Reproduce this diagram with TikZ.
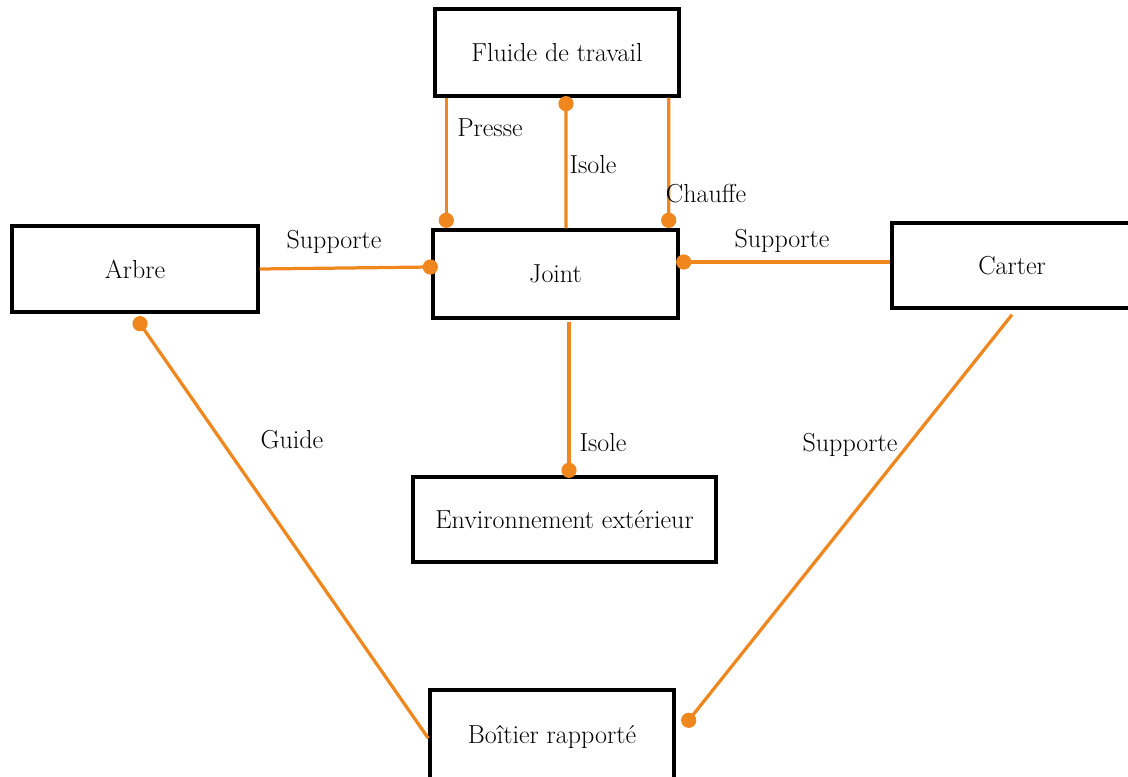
\documentclass[tikz,border=0pt]{standalone}
\usetikzlibrary{calc}
\definecolor{lk}{RGB}{240,135,30}
\tikzset{
  box/.style={draw=black, line width=2.4pt, fill=white, inner sep=0pt, font=\rmfamily\fontsize{18.5}{22}\selectfont},
  lnk/.style={draw=lk, line width=2.3pt},
  dot/.style={fill=lk},
  lbl/.style={font=\rmfamily\fontsize{18.5}{22}\selectfont, inner sep=0pt}
}
\begin{document}
\begin{tikzpicture}[x=0.025cm,y=-0.025cm]
\useasboundingbox (0,0) rectangle (1128,776);
\clip (0,0) rectangle (1128,776);
% boxes
\node[box, minimum width=244*0.025cm, minimum height=87*0.025cm] (F) at (557,52.5) {Fluide de travail};
\node[box, minimum width=245*0.025cm, minimum height=88*0.025cm] (J) at (555.5,274) {Joint};
\node[box, minimum width=246*0.025cm, minimum height=86*0.025cm] (A) at (135,269) {Arbre};
\node[box, minimum width=240*0.025cm, minimum height=85*0.025cm] (C) at (1012,265.5) {Carter};
\node[box, minimum width=303*0.025cm, minimum height=85*0.025cm] (E) at (564.5,519.5) {Environnement extérieur};
\node[box, minimum width=244*0.025cm, minimum height=94*0.025cm] (B) at (552,737) {Boîtier rapporté};
% connector end points
\coordinate (p1) at ($(F.south west)+(13,0)$);
\coordinate (p2) at ($(J.north west)+(15,-8)$);
\coordinate (i1) at ($(J.north)+(10.5,0)$);
\coordinate (i2) at ($(F.south)+(9,6)$);
\coordinate (c1) at ($(F.south east)+(-12,0)$);
\coordinate (c2) at ($(J.north east)+(-11,-8)$);
\coordinate (s1) at ($(A.east)+(0,0)$);
\coordinate (s2) at ($(J.west)+(-1,-7)$);
\coordinate (s3) at ($(J.east)+(4,-12)$);
\coordinate (s4) at ($(C.west)+(0,-3.5)$);
\coordinate (e1) at ($(J.south)+(13.5,2)$);
\coordinate (e2) at ($(E.north)+(4.5,-5)$);
\coordinate (g1) at ($(B.north west)+(0,50)$);
\coordinate (g2) at ($(A.south)+(5,10)$);
\coordinate (t1) at ($(C.south)+(0,5)$);
\coordinate (t2) at ($(B.north east)+(13,32)$);
% connectors
\draw[lnk] (p1) -- (p2);
\draw[lnk] (i1) -- (i2);
\draw[lnk] (c1) -- (c2);
\draw[lnk] (s1) -- (s2);
\draw[lnk] (s3) -- (s4);
\draw[lnk] (e1) -- (e2);
\draw[lnk] (g1) -- (g2);
\draw[lnk] (t1) -- (t2);
% dots
\foreach \d in {p2,i2,c2,s2,s3,e2,g2,t2} \fill[dot] (\d) circle (0.19cm);
% labels
\node[lbl] (l1) at (490,128) {Presse};
\node[lbl] (l2) at (593,165) {Isole};
\node[lbl] (l3) at (706,194) {Chauffe};
\node[lbl] (l4) at (334,242) {Supporte};
\node[lbl] (l5) at (782,241) {Supporte};
\node[lbl] (l6) at (603,443) {Isole};
\node[lbl] (l7) at (292,440) {Guide};
\node[lbl] (l8) at (850,445) {Supporte};
\end{tikzpicture}
\end{document}
